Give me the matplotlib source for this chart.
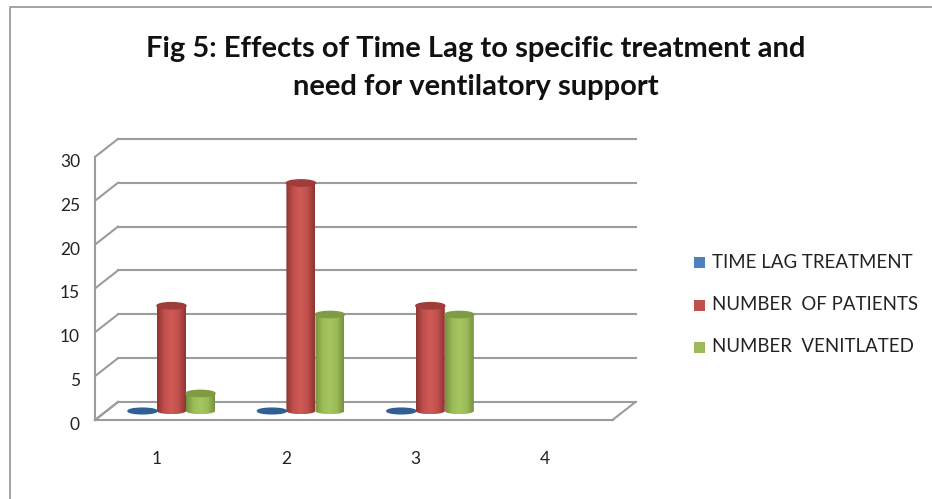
import numpy as np
import matplotlib
matplotlib.use("Agg")
import matplotlib.pyplot as plt
from matplotlib.colors import LinearSegmentedColormap
from matplotlib.patches import Ellipse, Rectangle
from matplotlib.path import Path
from matplotlib.transforms import ScaledTranslation

categories = [1, 2, 3, 4]
y_ticks = [0, 5, 10, 15, 20, 25, 30]
series_names = ["TIME LAG TREATMENT", "NUMBER  OF PATIENTS", "NUMBER  VENITLATED"]
time_lag = [0, 0, 0]
patients = [12, 26, 12]
ventilated = [2, 11, 11]
title = "Fig 5: Effects of Time Lag to specific treatment and\nneed for ventilatory support"

W, H = 932, 499
plt.rcParams['font.family'] = ['Lato', 'DejaVu Sans']
fig = plt.figure(figsize=(W / 100, H / 100), dpi=100, facecolor='white')

# axes whose data space is the plane through the middle of the bars
PX_CAT = 129.4
PX_UNIT = 8.77
left, right = 106.5, 624.0
base, top = 411.0, 411.0 - 30 * PX_UNIT
ax = fig.add_axes([left / W, 1 - base / H, (right - left) / W, (base - top) / H])
ax.set_xlim(1 - (171.5 - left) / PX_CAT, 1 + (right - 171.5) / PX_CAT)
ax.set_ylim(0, 30)
ax.axis('off')

def shifted(dx, dy):
    return ax.transData + ScaledTranslation(dx / 100, -dy / 100, fig.dpi_scale_trans)

GRID = '#9c9c9c'
xa, xb = ax.get_xlim()
back = shifted(11.5, -9.0)
front = shifted(-11.5, 9.0)
lw = 1.5
for v in y_ticks:
    ax.plot([xa, xb], [v, v], color=GRID, lw=lw, transform=back, clip_on=False, zorder=1)
ax.plot([xa, xb], [0, 0], color=GRID, lw=lw, transform=front, clip_on=False, zorder=1)
for x in (xa, xb):
    p0 = front.transform((x, 0)); p1 = back.transform((x, 0))
    fig.add_artist(plt.Line2D([p0[0] / W, p1[0] / W], [p0[1] / H, p1[1] / H], color=GRID, lw=lw, zorder=1))
for v in y_ticks:
    p0 = front.transform((xa, v)); p1 = back.transform((xa, v))
    fig.add_artist(plt.Line2D([p0[0] / W, p1[0] / W], [p0[1] / H, p1[1] / H], color=GRID, lw=lw, zorder=1))
ax.plot([xa, xa], [0, 30], color=GRID, lw=lw, transform=front, clip_on=False, zorder=1)

# tick labels
for v in y_ticks:
    p = front.transform((xa, v))
    fig.text((p[0] - 15) / W, (p[1] - 5) / H, str(v), ha='right', va='center', fontsize=12.5, color='#222222')
for c in categories:
    p = front.transform((c, 0))
    fig.text((p[0] - 3) / W, 1 - 459.5 / H, str(c), ha='center', va='center', fontsize=12.5, color='#222222')

# cylinders
BW = 29 / PX_CAT
EH = 0.72
def cylinder(cx, v, dark, mid, light, topc):
    x0, x1 = cx - BW / 2, cx + BW / 2
    if v <= 0:
        ax.add_patch(Ellipse((cx, 0), BW, 0.65, color=dark, zorder=3, clip_on=False))
        return
    cmap = LinearSegmentedColormap.from_list('c', [dark, mid, light, mid, dark])
    im = ax.imshow(np.linspace(0, 1, 64)[None, :], extent=(x0, x1, -EH / 2, v), aspect='auto',
                   cmap=cmap, zorder=3, interpolation='bilinear')
    t = np.linspace(np.pi, 2 * np.pi, 40)
    lower = np.c_[cx + BW / 2 * np.cos(t), EH / 2 * np.sin(t)]
    outline = np.vstack([[(x0, v)], lower, [(x1, v)], [(x0, v)]])
    im.set_clip_box(fig.bbox)
    im.set_clip_path(Path(outline, closed=True), transform=ax.transData)
    ax.add_patch(Ellipse((cx, v), BW, EH, color=topc, zorder=4, clip_on=False))

BLUE = ('#2f5f94', '#4a7db8', '#4f81bd', '#2f5f94')
RED = ('#8f3431', '#c0504d', '#d05a56', '#a03c39')
GREEN = ('#76923c', '#9bbb59', '#a6c660', '#7f9c42')
for i, c in enumerate(categories[:3]):
    cylinder(c - BW, time_lag[i], *BLUE)
    cylinder(c + BW, ventilated[i], *GREEN)
    cylinder(c, patients[i], *RED)
ax.set_xlim(xa, xb); ax.set_ylim(0, 30)

# title
fig.text(476 / W, 1 - 68 / H, title, ha='center', va='center', fontsize=21, fontweight='bold',
         color='#111111', linespacing=1.6)

# legend
legend_colors = ['#4f81bd', '#c0504d', '#9bbb59']
for name, col, y in zip(series_names, legend_colors, [262, 305, 347]):
    fig.add_artist(Rectangle((694 / W, 1 - (y + 5.5) / H), 11 / W, 11 / H, facecolor=col,
                             edgecolor='none', transform=fig.transFigure))
    fig.text(712 / W, 1 - y / H, name, ha='left', va='center', fontsize=13.4, color='#222222')

# outer frame
fig.add_artist(plt.Line2D([9.5 / W, 9.5 / W, 931 / W], [0, 1 - 6.5 / H, 1 - 6.5 / H], color='#a3a3a3', lw=1.4))

fig.savefig('out.png', dpi=100)
